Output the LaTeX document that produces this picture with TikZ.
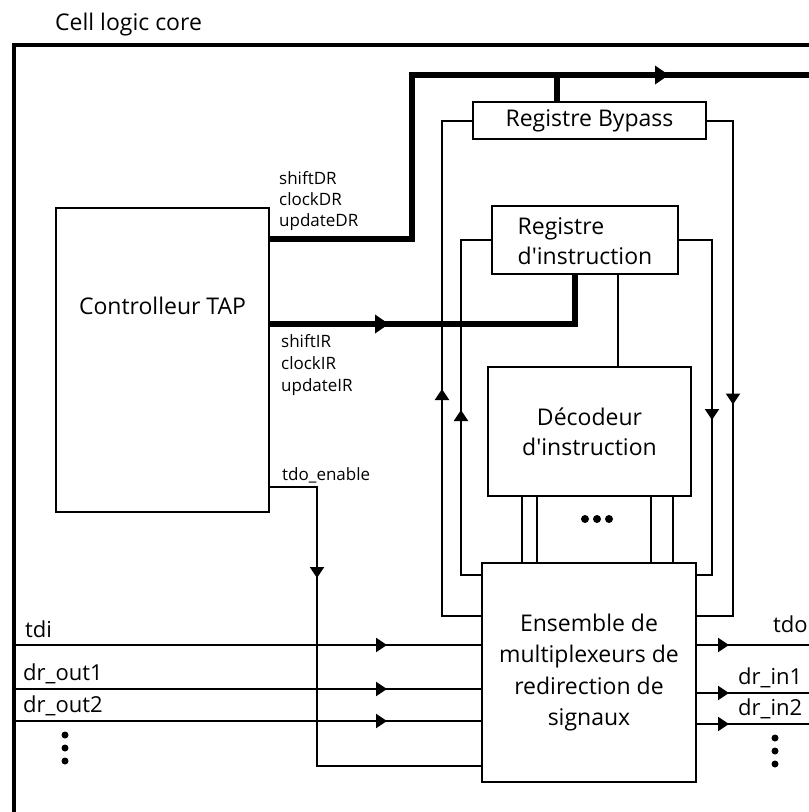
\documentclass[tikz,border=0pt]{standalone}
\usepackage{fontspec}
\setmainfont{Open Sans}[Ligatures=TeXOff]
\usetikzlibrary{arrows.meta,decorations.markings,calc}
\begin{document}
\begin{tikzpicture}[x=1pt,y=-1pt,
  box/.style={draw,line width=2pt,inner sep=0pt,align=center,font=\fontsize{23}{31}\selectfont},
  boxtxt/.style={inner sep=0pt,align=center,font=\fontsize{23}{31}\selectfont},
  wire/.style={line width=2pt},
  bus/.style={line width=6pt},
  lbl/.style={font=\fontsize{17}{20}\selectfont,anchor=base west,inner sep=0pt},
  biglbl/.style={font=\fontsize{22}{24}\selectfont,anchor=base west,inner sep=0pt},
  arr/.style={postaction={decorate},decoration={markings,mark=at position #1 with {\arrow{Triangle[length=11pt,width=14pt]}}}},
  barr/.style={postaction={decorate},decoration={markings,mark=at position #1 with {\arrow{Triangle[length=14pt,width=18pt]}}}},
  dot/.style={fill=black,circle,inner sep=0pt,minimum size=7pt}
]
\useasboundingbox (0,0) rectangle (809,812);
\clip (0,0) rectangle (809,812);
% outer border
\draw[line width=4pt] (14,45) rectangle (840,840);
\node[biglbl,font=\fontsize{23}{24}\selectfont] (title) at (55,30) {Cell logic core};

% boxes
\node[box,minimum width=213pt,minimum height=304pt] (tap) at (162.5,360) {};
\node[boxtxt] (taptxt) at (162.5,306) {Controlleur TAP};
\node[box,minimum width=233pt,minimum height=37pt] (byp) at (589.5,120.5) {Registre Bypass};
\node[box,minimum width=186pt,minimum height=68pt,font=\fontsize{23}{30}\selectfont] (ir) at (585,240) {};
\node[boxtxt,align=left,font=\fontsize{23}{30}\selectfont] (irtxt) at (585,241) {Registre\\d'instruction};
\node[box,minimum width=203pt,minimum height=129pt,font=\fontsize{23}{30}\selectfont] (dec) at (589.5,431.5) {Décodeur\\d'instruction};
\node[box,minimum width=214pt,minimum height=219pt,font=\fontsize{23}{31.5}\selectfont] (mux) at (589,672.5) {Ensemble de\\multiplexeurs de\\redirection de\\signaux};

% coordinates
\coordinate (drc) at (412,75);
\coordinate (drend) at (840,75);
\coordinate (bpl) at (442,616);
\coordinate (irl) at (461,575);
\coordinate (bpr) at (733,616);
\coordinate (irr) at (712,575);
\coordinate (te) at (317,766);
\coordinate (tdiS) at (16,645);
\coordinate (do1S) at (16,689);
\coordinate (do2S) at (16,721);
\coordinate (tdoE) at (840,645);
\coordinate (di1E) at (840,693);
\coordinate (di2E) at (840,724);

% DR bus
\draw[bus,barr=563pt] ([yshift=-32pt]tap.north east) -| (drc) -- (drend);
\draw[bus] ([xshift=-32.5pt]byp.north) -- ([xshift=-32.5pt]byp.north |- drc);
% IR bus
\draw[bus,barr=119pt] ([yshift=-117pt]tap.north east) -| ([xshift=-10pt]ir.south);
% IR to decoder
\draw[wire] ([xshift=33pt]ir.south) -- ([xshift=33pt]ir.south |- dec.north);
% loops
\draw[wire,arr=266pt] (mux.west |- bpl) -- (bpl) |- (byp.west);
\draw[wire,arr=185pt] (mux.west |- irl) -- (irl) |- (ir.west);
\draw[wire,arr=310pt] (byp.east) -| (bpr) -- (mux.east |- bpr);
\draw[wire,arr=213pt] (ir.east) -| (irr) -- (mux.east |- irr);
% decoder to mux
\foreach \dx in {-67.5,-52.5,61.5,83.5}
  \draw[wire] ([xshift=\dx pt]dec.south) -- ([xshift=\dx pt]dec.south |- mux.north);
\node[dot,minimum size=8pt] (hd1) at (585,519) {};
\node[dot,minimum size=8pt] (hd2) at (597,519) {};
\node[dot,minimum size=8pt] (hd3) at (609,519) {};
% tdo_enable
\draw[wire,arr=138pt] ([yshift=-280pt]tap.north east) -| (te) -- (mux.west |- te);
% inputs
\draw[wire,arr=371pt] (tdiS) -- (mux.west |- tdiS);
\draw[wire,arr=371pt] (do1S) -- (mux.west |- do1S);
\draw[wire,arr=371pt] (do2S) -- (mux.west |- do2S);
% outputs
\draw[wire,arr=32pt] (mux.east |- tdoE) -- (tdoE);
\draw[wire,arr=32pt] (mux.east |- di1E) -- (di1E);
\draw[wire,arr=32pt] (mux.east |- di2E) -- (di2E);

% labels
\node[lbl] (sdr) at (279,184) {shiftDR};
\node[lbl] (cdr) at (279,205) {clockDR};
\node[lbl] (udr) at (279,226) {updateDR};
\node[lbl] (sir) at (281,347) {shiftIR};
\node[lbl] (cir) at (281,369) {clockIR};
\node[lbl] (uir) at (281,391) {updateIR};
\node[lbl] (ten) at (282,480) {tdo\_enable};
\node[biglbl] (ltdi) at (25,637) {tdi};
\node[biglbl] (ldo1) at (23,680) {dr\_out1};
\node[biglbl] (ldo2) at (23,712) {dr\_out2};
\node[biglbl] (ltdo) at (773,632) {tdo};
\node[biglbl] (ldi1) at (738,684) {dr\_in1};
\node[biglbl] (ldi2) at (738,715) {dr\_in2};
\node[dot] (ld1) at (65,735) {};
\node[dot] (ld2) at (65,748) {};
\node[dot] (ld3) at (65,761) {};
\node[dot] (rd1) at (775,738) {};
\node[dot] (rd2) at (775,751) {};
\node[dot] (rd3) at (775,764) {};
\end{tikzpicture}
\end{document}
